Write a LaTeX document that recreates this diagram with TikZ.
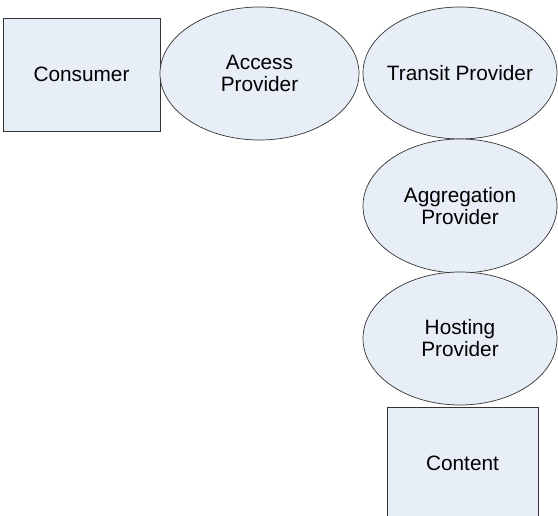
\documentclass[tikz,border=0pt]{standalone}
\usepackage{fontspec}
\setmainfont{Liberation Sans}
\usetikzlibrary{shapes.geometric}
\definecolor{shapefill}{HTML}{E8EEF7}
\definecolor{shapeline}{HTML}{333333}
\newcommand{\zw}[1]{\makebox[0pt]{#1}}
\tikzset{
  base/.style={draw=shapeline, fill=shapefill, line width=0.7pt, inner sep=0pt, align=center, font=\fontsize{20.8}{22}\selectfont},
  box/.style={base, rectangle},
  oval/.style={base, ellipse}
}
\begin{document}
\begin{tikzpicture}[x=1pt,y=-1pt]
\useasboundingbox (0,0) rectangle (558,516);
\clip (0,0) rectangle (558,516);
\node[box, minimum width=157pt, minimum height=113pt] (consumer) at (81.5,74.5) {Consumer};
\node[oval, minimum width=199pt, minimum height=133pt] (access) at (259.5,73.5) {\zw{Access}\\\zw{Provider}};
\node[oval, minimum width=194pt, minimum height=132pt] (transit) at (460,73) {\zw{Transit Provider}};
\node[oval, minimum width=194pt, minimum height=134pt] (aggregation) at (460,206) {\zw{Aggregation}\\\zw{Provider}};
\node[oval, minimum width=194pt, minimum height=133pt] (hosting) at (460,338.5) {\zw{Hosting}\\\zw{Provider}};
\node[box, minimum width=151pt, minimum height=112pt] (content) at (462.5,463) {Content};
\end{tikzpicture}
\end{document}
